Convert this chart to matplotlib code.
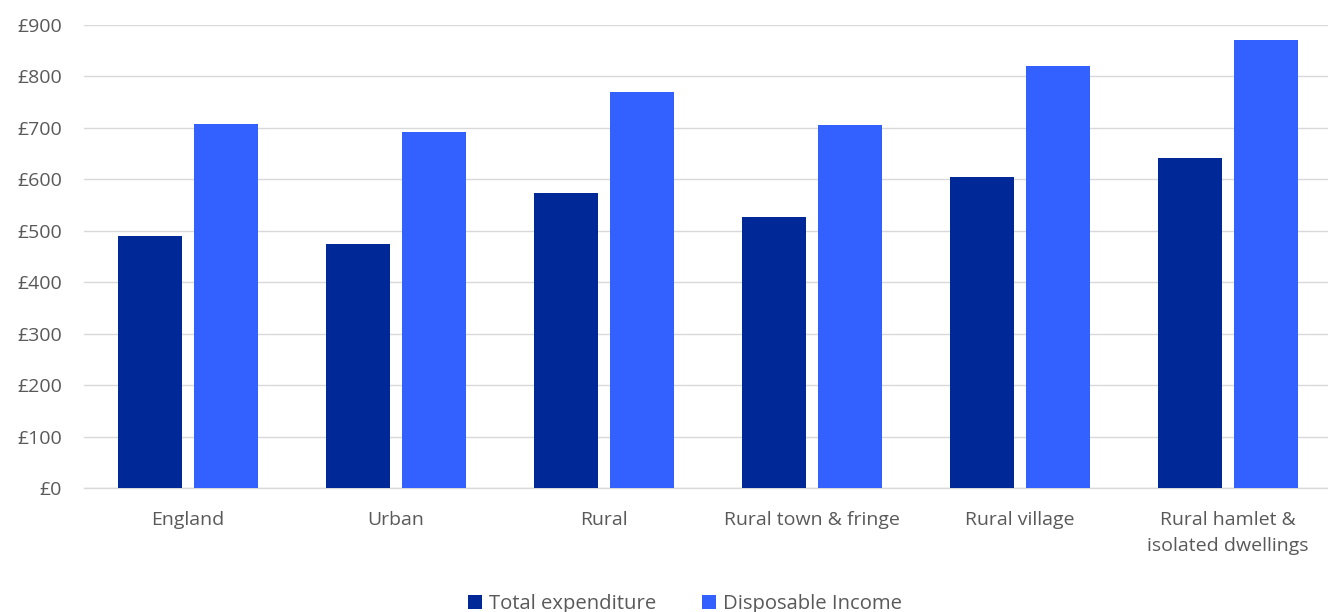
import matplotlib
matplotlib.use("Agg")
import matplotlib.pyplot as plt
import numpy as np
from matplotlib.patches import Patch

plt.rcParams['font.family'] = ['Open Sans', 'DejaVu Sans']

categories = ["England", "Urban", "Rural", "Rural town & fringe", "Rural village",
              "Rural hamlet &\nisolated dwellings"]
total_expenditure = [489, 474, 573, 527, 604, 642]
disposable_income = [707, 692, 770, 705, 820, 870]
yticks = [0, 100, 200, 300, 400, 500, 600, 700, 800, 900]
ytick_labels = ["£0", "£100", "£200", "£300", "£400", "£500", "£600", "£700", "£800", "£900"]

dark = "#002896"
light = "#3361FF"
txt = "#595959"
fs = 14

W, H = 1328, 612
fig = plt.figure(figsize=(W / 100, H / 100), dpi=100)
ax = fig.add_axes([84 / W, (H - 488) / H, 1248 / W, (488 - 25) / H])

x = np.arange(len(categories))
bw = 0.31
off = 0.182
ax.bar(x - off, total_expenditure, bw, color=dark, zorder=3)
ax.bar(x + off, disposable_income, bw, color=light, zorder=3)

ax.set_xlim(-0.5, len(categories) - 0.5)
ax.set_ylim(0, 900)
ax.set_yticks(yticks)
ax.set_yticklabels(ytick_labels)
ax.set_xticks(x)
ax.set_xticklabels(categories, linespacing=1.6)
ax.tick_params(axis='y', length=0, pad=16, labelsize=fs, labelcolor=txt)
ax.tick_params(axis='x', length=0, pad=16.5, labelsize=fs, labelcolor=txt)
ax.yaxis.grid(True, color="#D9D9D9", linewidth=1.0, zorder=0)
for s in ["top", "right", "left"]:
    ax.spines[s].set_visible(False)
ax.spines["bottom"].set_color("#D9D9D9")
ax.spines["bottom"].set_linewidth(1.0)

handles = [Patch(facecolor=dark, label="Total expenditure"),
           Patch(facecolor=light, label="Disposable Income")]
fig.legend(handles=handles, loc="center", bbox_to_anchor=(685 / W, 1 - 604 / H),
           ncol=2, frameon=False, fontsize=14.6, labelcolor=txt,
           handlelength=0.7, handleheight=0.7, handletextpad=0.35,
           columnspacing=2.25)

fig.savefig("out.png", dpi=100)
